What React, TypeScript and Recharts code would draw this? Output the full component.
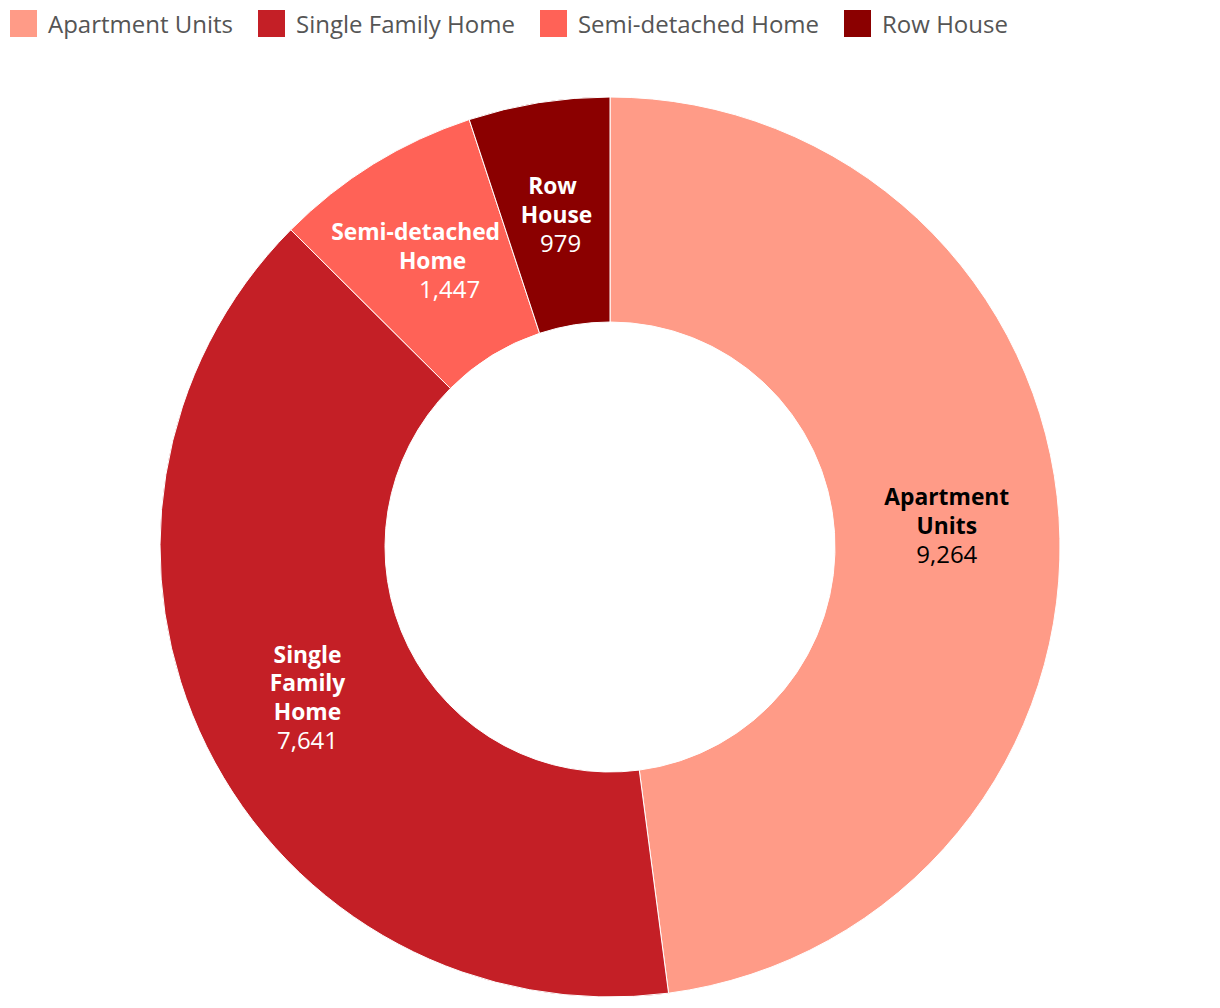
import * as React from 'react'
import { PieChart, Pie, Cell } from 'recharts'

const CATEGORIES = ['Apartment Units', 'Single Family Home', 'Semi-detached Home', 'Row House']
const VALUES = [9264, 7641, 1447, 979]
const LABEL_LINES = [['Apartment', 'Units'], ['Single', 'Family', 'Home'], ['Semi-detached', 'Home'], ['Row', 'House']]

const COLORS = ['#FF9B87', '#C41F26', '#FF6257', '#8B0000']
const LABEL_COLORS = ['#000000', '#ffffff', '#ffffff', '#ffffff']
// the small sideways step between label lines, as the reference shows it
const LINE_SHIFT = [0, 0, 17, 4]

const FONT = '"Open Sans", "Noto Sans", sans-serif'
const RADIAN = Math.PI / 180

const data = CATEGORIES.map((name, i) => ({ name, value: VALUES[i], lines: LABEL_LINES[i] }))

function SliceLabel(props: any) {
  const { cx, cy, midAngle, innerRadius, outerRadius, index } = props
  const r = (innerRadius + outerRadius) / 2
  const x = cx + r * Math.cos(-midAngle * RADIAN)
  const y = cy + r * Math.sin(-midAngle * RADIAN)
  const lines: string[] = data[index].lines
  const all = [...lines, VALUES[index].toLocaleString('en-US')]
  const lh = 28.5
  const top = y - ((all.length - 1) * lh) / 2
  const mid = (all.length - 1) / 2
  return (
    <text x={x} y={top} textAnchor="middle" dominantBaseline="central" fill={LABEL_COLORS[index]} fontFamily={FONT} fontSize={22}>
      {all.map((t, i) => (
        <tspan
          key={i}
          x={x + (i - mid) * LINE_SHIFT[index]}
          y={top + i * lh}
          fontWeight={i < lines.length ? 700 : 400}
          fontSize={i < lines.length ? 22.8 : 24}
        >
          {t}
        </tspan>
      ))}
    </text>
  )
}

function TopLegend() {
  return (
    <div
      style={{
        position: 'absolute',
        left: 10,
        top: 10,
        display: 'flex',
        alignItems: 'center',
        fontFamily: FONT,
        fontSize: 24,
        color: '#555555',
        whiteSpace: 'nowrap',
      }}
    >
      {CATEGORIES.map((c, i) => (
        <div key={c} style={{ display: 'flex', alignItems: 'center', marginRight: 25, height: 27 }}>
          <span style={{ width: 27, height: 27, background: COLORS[i], marginRight: 11, display: 'inline-block' }} />
          {c}
        </div>
      ))}
    </div>
  )
}

export default function App() {
  return (
    <div style={{ position: 'absolute', left: 0, top: 0, width: 1220, height: 1008, background: '#fff' }}>
      <PieChart width={1220} height={1008} margin={{ top: 0, right: 0, bottom: 0, left: 0 }}>
        <Pie
          data={data}
          dataKey="value"
          nameKey="name"
          cx={610}
          cy={547}
          innerRadius={225}
          outerRadius={450}
          startAngle={90}
          endAngle={-270}
          stroke="#ffffff"
          strokeWidth={1}
          labelLine={false}
          label={SliceLabel}
          isAnimationActive={false}
        >
          {data.map((d, i) => (
            <Cell key={d.name} fill={COLORS[i]} />
          ))}
        </Pie>
      </PieChart>
      <TopLegend />
    </div>
  )
}
